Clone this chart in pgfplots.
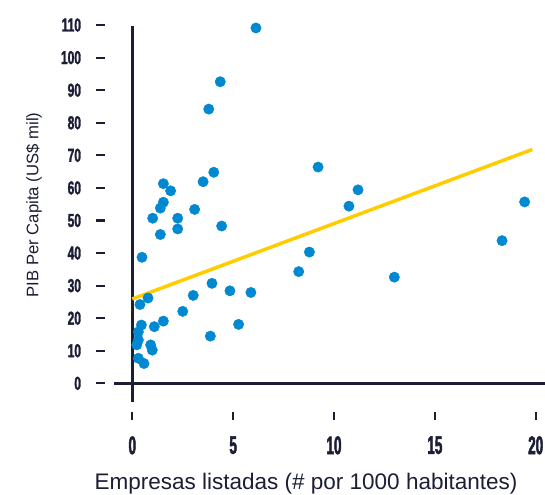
\documentclass[border=0pt]{standalone}
\usepackage{fontspec}
\setmainfont{Liberation Sans}
\newfontfamily\ytfont[FakeStretch=0.64,FakeBold=1.6]{Liberation Sans Bold}
\newfontfamily\xtfont[FakeStretch=0.53,FakeBold=1.8]{Liberation Sans Bold}
\usepackage{pgfplots}
\pgfplotsset{compat=1.18}
\definecolor{navy}{RGB}{27,30,52}
\definecolor{dotblue}{RGB}{0,136,209}
\definecolor{trend}{RGB}{255,204,0}
\begin{document}
\begin{tikzpicture}
\begin{axis}[
  x=20.17pt, y=3.257pt,
  xmin=-1.79, xmax=20.46, ymin=-11.3, ymax=117.69,
  axis x line*=bottom, axis y line*=left,
  axis line style={draw=none},
  xtick={0,5,10,15,20}, ytick={0,10,...,110},
  tick align=inside, major tick length=8.5pt,
  tick style={navy, line width=2.2pt},
  /pgf/number format/assume math mode=true,
  xticklabel style={font=\xtfont\fontsize{25.4}{25.4}\selectfont, text=navy, anchor=north, inner sep=0pt, yshift=-16pt},
  yticklabel style={font=\ytfont\fontsize{18.7}{18.7}\selectfont, text=navy, anchor=east, inner sep=0pt, xshift=-15pt},
  xlabel={Empresas listadas (\# por 1000 habitantes)},
  ylabel={PIB Per Capita (US\$ mil)},
  xlabel style={font=\fontsize{22.5}{22.5}\selectfont, text=navy, at={(axis description cs:0.4675,-0.1650)}, anchor=base, inner sep=0pt},
  ylabel style={font=\fontsize{16.7}{16.7}\selectfont, text=navy, at={(axis description cs:-0.1386,0.512)}, anchor=center, inner sep=0pt},
  clip=false,
]
\draw[navy, line width=3pt] (axis cs:-0.91,0) -- (axis cs:20.46,0);
\draw[navy, line width=3pt] (axis cs:0,-5.7) -- (axis cs:0,109.7);
\addplot[only marks, mark=*, color=dotblue, mark size=5.2pt, mark options={draw=dotblue, fill=dotblue}] coordinates {
(6.13,109.1) (4.36,92.6) (3.79,84.2) (9.21,66.4) (4.04,64.8) (3.51,61.9)
(1.54,61.3) (1.90,59.1) (11.19,59.4) (1.54,55.6) (19.45,55.7) (1.39,53.8)
(3.09,53.4) (10.74,54.4) (1.01,50.7) (2.25,50.7) (4.43,48.3) (2.25,47.4)
(1.39,45.7) (18.33,43.8) (8.78,40.3) (0.48,38.7) (8.25,34.3) (12.99,32.6)
(3.95,30.7) (4.84,28.4) (5.88,27.9) (3.02,27.0) (0.78,26.2) (0.38,24.2)
(2.50,22.1) (1.54,19.1) (5.27,18.1) (0.45,17.9) (1.09,17.4) (0.30,15.8)
(3.87,14.5) (0.30,13.3) (0.22,11.8) (0.91,11.8) (0.99,10.2) (0.30,7.7)
(0.58,6.1)
};
\addplot[trend, line width=3.5pt] coordinates {(0,25.9) (19.83,71.8)};
\coordinate (bl) at (axis cs:-6.559,-33.99);
\coordinate (tr) at (axis cs:20.46,117.69);
\end{axis}
\pgfresetboundingbox
\path[use as bounding box] (bl) rectangle (tr);
\end{tikzpicture}
\end{document}
